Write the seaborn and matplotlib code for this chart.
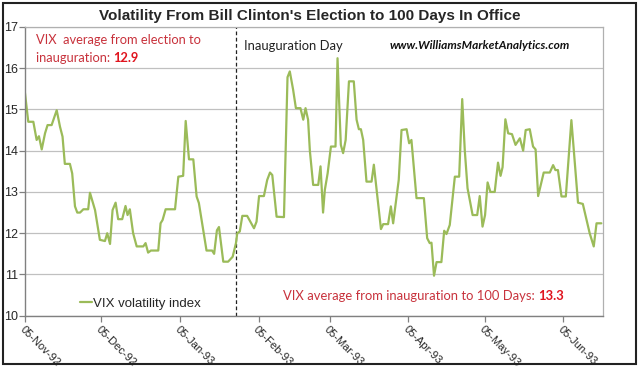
import numpy as np
import pandas as pd
import matplotlib
matplotlib.use("Agg")
import matplotlib.pyplot as plt
import matplotlib.dates as mdates
import matplotlib.patches as patches
import seaborn as sns

# VIX readings, position given as days after 05-Nov-92
day_offset = [0.0, 1.3, 3.3, 4.6, 5.5, 6.6, 7.9, 8.9, 10.5, 12.5, 13.8, 14.8, 15.7, 17.7, 18.6,
              19.7, 20.6, 21.7, 23.0, 24.9, 25.6, 27.6, 29.5, 31.5, 32.4, 33.5, 34.5, 35.7, 36.7,
              38.3, 39.6, 40.4, 41.3, 42.6, 44.0, 46.6, 47.5, 48.5, 49.6, 52.5, 53.4, 54.2, 55.4,
              59.1, 60.4, 62.3, 63.3, 64.6, 66.3, 67.6, 68.5, 71.5, 73.7, 74.5, 75.6, 76.4, 78.1,
              80.0, 81.8, 83.1, 83.6, 84.6, 85.6, 87.5, 90.2, 91.2, 92.2, 94.1, 95.4, 96.5, 97.4,
              99.1, 102.0, 103.4, 104.3, 105.6, 106.7, 108.5, 109.6, 110.5, 111.5, 112.2, 113.5,
              115.5, 116.4, 117.4, 118.1, 119.2, 120.5, 122.3, 123.1, 123.7, 124.4, 125.3, 126.3,
              127.6, 129.5, 130.6, 131.5, 132.3, 133.2, 134.5, 136.5, 137.4, 138.5, 140.2, 141.1,
              143.0, 144.1, 145.0, 147.2, 148.3, 150.3, 151.3, 152.2, 154.2, 157.1, 158.4, 159.4,
              160.1, 161.1, 162.1, 164.0, 165.1, 166.0, 167.3, 169.3, 171.0, 172.2, 173.2, 174.3,
              176.3, 178.1, 179.1, 180.2, 181.2, 182.2, 183.3, 185.0, 186.3, 187.3, 188.1, 189.2,
              190.3, 191.8, 193.2, 194.9, 196.2, 197.2, 198.8, 200.1, 201.1, 202.1, 204.3, 206.7,
              208.0, 208.9, 209.9, 211.3, 213.0, 215.2, 217.8, 219.7, 222.4, 224.0, 225.1, 227.0]
vix = [15.40, 14.70, 14.70, 14.26, 14.35, 14.03, 14.42, 14.62, 14.62, 14.98, 14.58, 14.34, 13.68, 13.68, 13.45,
       12.65, 12.50, 12.50, 12.58, 12.58, 12.98, 12.56, 11.84, 11.81, 12.00, 11.74, 12.56, 12.74, 12.34,
       12.34, 12.66, 12.44, 12.58, 12.00, 11.68, 11.68, 11.76, 11.53, 11.58, 11.58, 12.24, 12.32, 12.58,
       12.58, 13.37, 13.39, 14.72, 13.79, 13.79, 12.89, 12.73, 11.58, 11.58, 11.50, 12.07, 12.15, 11.31,
       11.31, 11.43, 11.76, 12.00, 12.04, 12.42, 12.42, 12.12, 12.28, 12.90, 12.90, 13.29, 13.47, 13.41,
       12.40, 12.39, 15.78, 15.92, 15.48, 15.03, 15.03, 14.75, 15.03, 14.75, 14.00, 13.17,
       13.17, 13.62, 12.50, 13.05, 13.45, 14.10, 14.10, 16.24, 15.23, 14.14, 13.94, 14.26,
       15.68, 15.68, 14.75, 14.52, 14.52, 14.26, 13.25, 13.25, 13.66, 13.05, 12.10, 12.22,
       12.22, 12.65, 12.24, 13.29, 14.50, 14.52, 14.18, 14.26, 12.85, 12.85, 11.88, 11.76,
       11.77, 10.97, 11.30, 11.30, 12.06, 11.98, 12.20, 13.37, 13.37, 15.25, 14.02, 13.09,
       12.44, 12.44, 12.90, 12.16, 12.44, 13.23, 13.00, 13.00, 13.71, 13.39, 13.60, 14.76,
       14.42, 14.40, 14.14, 14.30, 14.00, 14.50, 14.52, 14.10, 14.03, 12.90, 13.47, 13.47,
       13.65, 13.53, 13.53, 12.89, 12.89, 14.74, 12.74, 12.71, 12.00, 11.68, 12.24, 12.24]

start_date = pd.Timestamp("1992-11-05")
end_offset = 227.6
inauguration_marker = 83.2
tick_dates = ["1992-11-05", "1992-12-05", "1993-01-05", "1993-02-05",
              "1993-03-05", "1993-04-05", "1993-05-05", "1993-06-05"]

df = pd.DataFrame({
    "date": start_date + pd.to_timedelta(day_offset, unit="D"),
    "vix": vix,
})

sns.set_style("white")
plt.rcParams["font.family"] = ["Liberation Sans", "DejaVu Sans"]

red = "#c8323c"
bold_red = "#e0141e"

fig = plt.figure(figsize=(6.4, 3.68), dpi=100)
ax = fig.add_axes([0.039, 0.142, 0.903, 0.785])

sns.lineplot(data=df, x="date", y="vix", color="#9bbb59", linewidth=1.6,
             label="VIX volatility index", ax=ax)

ax.axvline(start_date + pd.Timedelta(days=inauguration_marker), color="#222222",
           linewidth=0.9, linestyle=(0, (3, 2)), zorder=1)

ax.set_xlim(start_date, start_date + pd.Timedelta(days=end_offset))
ax.set_ylim(10, 17)
ax.set_yticks(range(10, 18))
ax.set_xticks(pd.to_datetime(tick_dates))
ax.xaxis.set_major_formatter(mdates.DateFormatter("%d-%b-%y"))
ax.set_xlabel("")
ax.set_ylabel("")

ax.grid(axis="y", color="#c0c0c0", linewidth=0.9)
ax.set_axisbelow(True)
for side in ["left", "bottom"]:
    ax.spines[side].set_color("#808080")
    ax.spines[side].set_linewidth(1.0)
for side in ["top", "right"]:
    ax.spines[side].set_color("#b0b0b0")
    ax.spines[side].set_linewidth(0.9)

ax.tick_params(axis="y", direction="out", length=4, width=0.9, color="#808080",
               labelsize=9, pad=1, left=True)
ax.tick_params(axis="x", direction="out", length=4, width=0.9, color="#808080",
               labelsize=8, pad=2, bottom=True)
for lbl in ax.get_xticklabels():
    lbl.set_rotation(-45)
    lbl.set_ha("left")
    lbl.set_va("top")
    lbl.set_rotation_mode("anchor")

ax.legend(loc="lower left", bbox_to_anchor=(0.075, -0.02), frameon=False,
          handlelength=0.9, handletextpad=0.1, fontsize=9.5)

fig.suptitle("Volatility From Bill Clinton's Election to 100 Days In Office",
             x=0.484, y=0.975, fontsize=11, fontweight="bold")

calib = ["Lato", "DejaVu Sans"]
ax.text(0.019, 0.954, "VIX  average from election to", transform=ax.transAxes,
        color=red, fontsize=9.3, family=calib, va="center", ha="left")
t1 = ax.text(0.019, 0.892, "inauguration: ", transform=ax.transAxes,
             color=red, fontsize=9.3, family=calib, va="center", ha="left")
ax.annotate("12.9", xy=(1, 0.5), xycoords=t1, va="center", ha="left",
            color=bold_red, fontsize=9.3, fontweight="bold", family=calib)

ax.text(0.379, 0.933, "Inauguration Day", transform=ax.transAxes,
        color="#222222", fontsize=9.4, family=calib, va="center", ha="left")
ax.text(0.631, 0.937, "www.WilliamsMarketAnalytics.com", transform=ax.transAxes,
        color="#111111", fontsize=8.6, family=calib, fontstyle="italic",
        fontweight="bold", va="center", ha="left")

t2 = ax.text(0.446, 0.069, "VIX average from inauguration to 100 Days: ",
             transform=ax.transAxes, color=red, fontsize=9.4, family=calib,
             va="center", ha="left")
ax.annotate("13.3", xy=(1, 0.5), xycoords=t2, va="center", ha="left",
            color=bold_red, fontsize=9.4, fontweight="bold", family=calib)

fig.add_artist(patches.Rectangle((0.004, 0.011), 0.99, 0.982, transform=fig.transFigure,
                                 fill=False, edgecolor="#222222", linewidth=1.5))

fig.savefig("out.png", dpi=100)
